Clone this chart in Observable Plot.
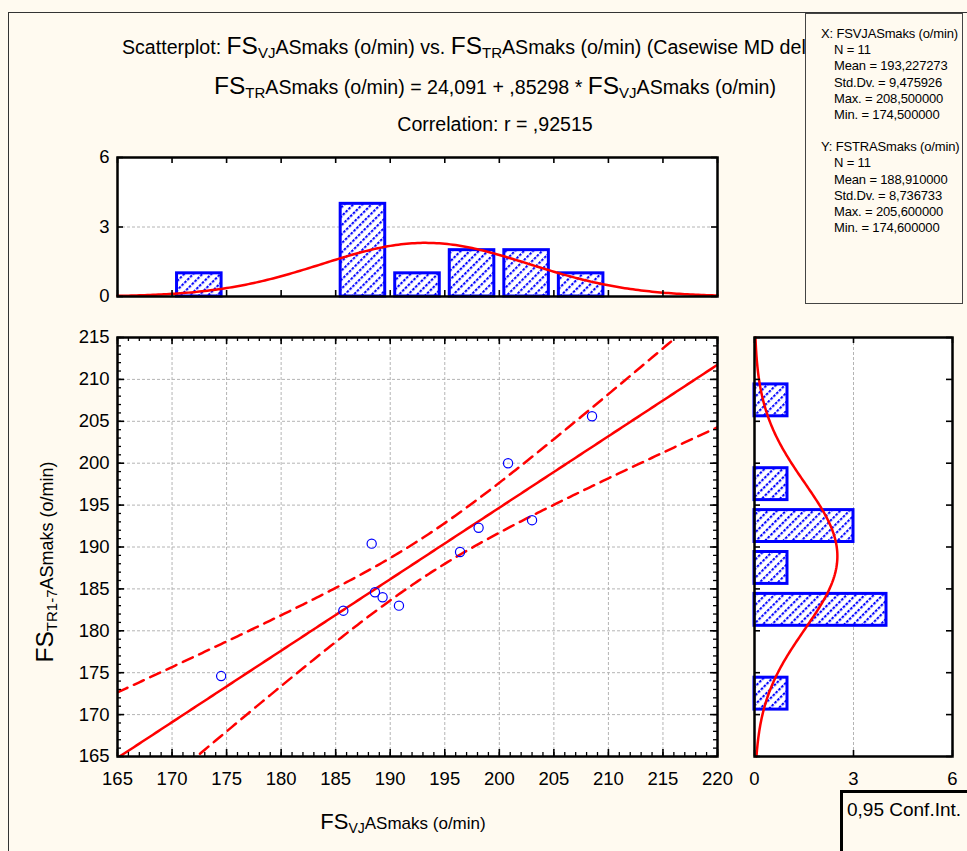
<!DOCTYPE html>
<html><head><meta charset="utf-8">
<script src="https://cdn.jsdelivr.net/npm/d3@7"></script>
<script src="https://cdn.jsdelivr.net/npm/@observablehq/plot@0.6"></script>
<style>
html,body{margin:0;padding:0;background:#fffaf0;}
#root{position:relative;width:967px;height:851px;overflow:hidden;background:#fffaf0;font-family:"Liberation Sans",Arial,sans-serif;color:#000;}
.t{position:absolute;white-space:nowrap;font-size:19.6px;line-height:26px;}
.big{font-size:24.5px;}
.sb{font-size:15px;position:relative;top:4px;}
.ax{font-size:17px;}
.ax .big{font-size:22px;}
.ax .sb{font-size:14px;}
#stats{position:absolute;left:805px;top:13px;width:158px;height:291px;border:1px solid #444;background:#fffaf0;font-size:13px;letter-spacing:-0.15px;line-height:16.2px;box-sizing:border-box;padding:12px 0 0 15px;white-space:nowrap;overflow:hidden;}
#stats .ind{padding-left:13px;}
#conf{position:absolute;left:840px;top:790px;width:140px;height:80px;border:3px solid #000;box-sizing:border-box;font-size:19px;padding:6px 0 0 4px;white-space:nowrap;}
#frame{position:absolute;left:8px;top:12px;width:1100px;height:1100px;border-left:1.5px solid #333;border-top:1.5px solid #333;}
</style></head><body><div id="root"><div id="frame"></div></div>
<script>
// ---------- data ----------
const xName = "FSVJASmaks (o/min)";
const yName = "FSTRASmaks (o/min)";
const xVals = [174.5, 185.7, 188.3, 188.6, 189.3, 190.8, 196.4, 198.1, 200.8, 203.0, 208.5];
const yVals = [174.6, 182.4, 190.4, 184.6, 184.0, 183.0, 189.4, 192.3, 200.0, 193.2, 205.6];
const xBinLo = [165, 170, 175, 180, 185, 190, 195, 200, 205, 210, 215];
const xCounts = [0, 1, 0, 0, 4, 1, 2, 2, 1, 0, 0];
const yBinLo = [165, 170, 175, 180, 185, 190, 195, 200, 205, 210];
const yCounts = [0, 1, 0, 4, 1, 3, 1, 0, 1, 0];
const binW = 5;
const statLabels = ["N", "Mean", "Std.Dv.", "Max.", "Min."];
const xStats = [11, 193.227273, 9.475926, 208.5, 174.5];
const yStats = [11, 188.91, 8.736733, 205.6, 174.6];
const regCoef = [24.091, 0.85298];   // intercept, slope
const corrR = 0.92515;
const tCrit = 2.262;                 // t(0.975, df = 9) for 0.95 conf. int.
const xTicks = [165, 170, 175, 180, 185, 190, 195, 200, 205, 210, 215, 220];
const yTicks = [165, 170, 175, 180, 185, 190, 195, 200, 205, 210, 215];
const countTicks = [0, 3, 6];

// ---------- derived ----------
const comma = s => s.replace(".", ",");
const fmt6 = v => comma(v.toFixed(6));
const noLead = (v, d) => comma(v.toFixed(d)).replace(/^0/, "");
const normal = (v, m, s) => Math.exp(-0.5 * ((v - m) / s) ** 2) / (s * Math.sqrt(2 * Math.PI));
const gridX = d3.range(165, 220.001, 0.25);
const gridY = d3.range(165, 215.001, 0.25);
const points = xVals.map((x, i) => ({x, y: yVals[i]}));
const xBins = xBinLo.map((lo, i) => ({lo, hi: lo + binW, n: xCounts[i]})).filter(d => d.n > 0);
const yBins = yBinLo.map((lo, i) => ({lo, hi: lo + binW, n: yCounts[i]})).filter(d => d.n > 0);
const topCurve = gridX.map(v => ({x: v, y: xStats[0] * binW * normal(v, xStats[1], xStats[2])}));
const rightCurve = gridY.map(v => ({y: v, x: yStats[0] * binW * normal(v, yStats[1], yStats[2])}));
const n = xStats[0], mx = xStats[1], sx = xStats[2], sy = yStats[2];
const se = sy * Math.sqrt((1 - corrR * corrR) * (n - 1) / (n - 2));
const Sxx = (n - 1) * sx * sx;
const fit = gridX.map(v => {
  const yh = regCoef[0] + regCoef[1] * v;
  const h = tCrit * se * Math.sqrt(1 / n + (v - mx) ** 2 / Sxx);
  return {x: v, y: yh, lo: yh - h, hi: yh + h};
});

const FONT = "'Liberation Sans', Arial, sans-serif";
const BLUE = "#0000ff", RED = "#ff0000", GRID = "#b4b4b4";
const root = document.getElementById("root");
function place(el, left, top) {
  el.style.position = "absolute"; el.style.left = left + "px"; el.style.top = top + "px";
  root.appendChild(el); return el;
}
function addHatch(svg, id) {
  const ns = "http://www.w3.org/2000/svg";
  const defs = document.createElementNS(ns, "defs");
  defs.innerHTML = `<pattern id="${id}" patternUnits="userSpaceOnUse" width="6.4" height="4" patternTransform="rotate(45)">
    <rect x="-1" y="-1" width="9" height="6" fill="white"/>
    <rect x="0" y="0" width="2.1" height="2.6" fill="${BLUE}"/></pattern>`;
  svg.insertBefore(defs, svg.firstChild);
}
// inward tick helpers (pixel lengths via insets)
const ticksBottom = (vals, ih, len, w = 1.6) => Plot.ruleX(vals, {insetTop: ih - len, stroke: "black", strokeWidth: w});
const ticksTop = (vals, ih, len, w = 1.6) => Plot.ruleX(vals, {insetBottom: ih - len, stroke: "black", strokeWidth: w});
const ticksLeft = (vals, iw, len, w = 1.6) => Plot.ruleY(vals, {insetRight: iw - len, stroke: "black", strokeWidth: w});
const ticksRight = (vals, iw, len, w = 1.6) => Plot.ruleY(vals, {insetLeft: iw - len, stroke: "black", strokeWidth: w});
const intFmt = d3.format("d");

// ---------- scatter ----------
{
  const W = 740, H = 490, mL = 117, mR = 23, mT = 17, mB = 54;
  const iw = W - mL - mR, ih = H - mT - mB;
  const minorX = d3.range(165, 221, 1), minorY = d3.range(165, 216, 1);
  const svg = Plot.plot({
    width: W, height: H, marginLeft: mL, marginRight: mR, marginTop: mT, marginBottom: mB,
    style: {background: "transparent", fontSize: "18.5px", fontFamily: FONT, color: "black", overflow: "visible"},
    x: {domain: [165, 220], ticks: xTicks, tickFormat: intFmt, tickSize: 0, tickPadding: 15, label: null},
    y: {domain: [165, 215], ticks: yTicks, tickFormat: intFmt, tickSize: 0, tickPadding: 8, label: null},
    marks: [
      Plot.frame({fill: "white"}),
      Plot.ruleX(xTicks, {stroke: GRID, strokeDasharray: "3,2", strokeWidth: 1}),
      Plot.ruleY(yTicks, {stroke: GRID, strokeDasharray: "3,2", strokeWidth: 1}),
      Plot.line(fit, {x: "x", y: "hi", stroke: RED, strokeWidth: 2.5, strokeDasharray: "11,7", clip: true}),
      Plot.line(fit, {x: "x", y: "lo", stroke: RED, strokeWidth: 2.5, strokeDasharray: "11,7", clip: true}),
      Plot.line(fit, {x: "x", y: "y", stroke: RED, strokeWidth: 2.5, clip: true}),
      Plot.dot(points, {x: "x", y: "y", r: 4.6, stroke: BLUE, strokeWidth: 1.2, fill: "none"}),
      ticksBottom(minorX, ih, 4, 1.3), ticksTop(minorX, ih, 4, 1.3),
      ticksLeft(minorY, iw, 4, 1.3), ticksRight(minorY, iw, 4, 1.3),
      ticksBottom(xTicks, ih, 7), ticksTop(xTicks, ih, 7),
      ticksLeft(yTicks, iw, 7), ticksRight(yTicks, iw, 7),
      Plot.frame({stroke: "black", strokeWidth: 2.5})
    ]
  });
  place(svg, 0, 320);
}

// ---------- top histogram ----------
{
  const W = 740, H = 175, mL = 117, mR = 23, mT = 17, mB = 19;
  const iw = W - mL - mR, ih = H - mT - mB;
  const svg = Plot.plot({
    width: W, height: H, marginLeft: mL, marginRight: mR, marginTop: mT, marginBottom: mB,
    style: {background: "transparent", fontSize: "18.5px", fontFamily: FONT, color: "black", overflow: "visible"},
    x: {domain: [165, 220], axis: null},
    y: {domain: [0, 6], ticks: countTicks, tickFormat: intFmt, tickSize: 0, tickPadding: 8, label: null},
    marks: [
      Plot.frame({fill: "white"}),
      Plot.ruleY([3], {stroke: GRID, strokeDasharray: "3,2", strokeWidth: 1}),
      Plot.rect(xBins, {x1: "lo", x2: "hi", y1: d => 0, y2: "n", insetLeft: 5, insetRight: 5,
        fill: "url(#hatchTop)", stroke: BLUE, strokeWidth: 3}),
      Plot.line(topCurve, {x: "x", y: "y", stroke: RED, strokeWidth: 2.5}),
      ticksBottom(xTicks, ih, 6), ticksTop(xTicks, ih, 6),
      ticksLeft(countTicks, iw, 6), ticksRight(countTicks, iw, 6),
      Plot.frame({stroke: "black", strokeWidth: 2.5})
    ]
  });
  addHatch(svg, "hatchTop");
  place(svg, 0, 140);
}

// ---------- right histogram ----------
{
  const W = 227, H = 490, mL = 14, mR = 15, mT = 17, mB = 54;
  const iw = W - mL - mR, ih = H - mT - mB;
  const svg = Plot.plot({
    width: W, height: H, marginLeft: mL, marginRight: mR, marginTop: mT, marginBottom: mB,
    style: {background: "transparent", fontSize: "18.5px", fontFamily: FONT, color: "black", overflow: "visible"},
    x: {domain: [0, 6], ticks: countTicks, tickFormat: intFmt, tickSize: 0, tickPadding: 15, label: null},
    y: {domain: [165, 215], axis: null},
    marks: [
      Plot.frame({fill: "white"}),
      Plot.ruleX([3], {stroke: GRID, strokeDasharray: "3,2", strokeWidth: 1}),
      Plot.rect(yBins, {y1: "lo", y2: "hi", x1: d => 0, x2: "n", insetTop: 5, insetBottom: 5,
        fill: "url(#hatchRight)", stroke: BLUE, strokeWidth: 3}),
      Plot.line(rightCurve, {x: "x", y: "y", stroke: RED, strokeWidth: 2.5}),
      ticksBottom(countTicks, ih, 6), ticksTop(countTicks, ih, 6),
      ticksLeft(yTicks, iw, 6), ticksRight(yTicks, iw, 6),
      Plot.frame({stroke: "black", strokeWidth: 2.5})
    ]
  });
  addHatch(svg, "hatchRight");
  place(svg, 740, 320);
}

// ---------- texts ----------
const fs = sub => `<span class="big">FS</span><span class="sb">${sub}</span>`;
const t1 = document.createElement("div"); t1.className = "t";
t1.style.width = "683px"; t1.style.overflow = "hidden";
t1.innerHTML = `Scatterplot: ${fs("VJ")}ASmaks (o/min) vs. ${fs("TR")}ASmaks (o/min) (Casewise MD deletion)`;
place(t1, 122, 33);
const t2 = document.createElement("div"); t2.className = "t";
t2.style.width = "990px"; t2.style.textAlign = "center";
t2.innerHTML = `${fs("TR")}ASmaks (o/min) = ${comma(regCoef[0].toFixed(3))} + ${noLead(regCoef[1], 5)} * ${fs("VJ")}ASmaks (o/min)`;
place(t2, 0, 73);
const t3 = document.createElement("div"); t3.className = "t";
t3.style.width = "990px"; t3.style.textAlign = "center";
t3.innerHTML = `Correlation: r = ${noLead(corrR, 5)}`;
place(t3, 0, 111);

const xt = document.createElement("div"); xt.className = "t ax";
xt.style.width = "600px"; xt.style.textAlign = "center";
xt.innerHTML = `${fs("VJ")}ASmaks (o/min)`;
place(xt, 103, 809);
const yt = document.createElement("div"); yt.className = "t";
yt.style.width = "400px"; yt.style.textAlign = "center";
yt.style.transform = "rotate(-90deg)"; yt.style.transformOrigin = "200px 13px";
yt.innerHTML = `${fs("TR1-7")}ASmaks (o/min)`;
yt.style.fontSize = "18px";
place(yt, 45 - 200, 562 - 13);

// stats box
const st = document.createElement("div"); st.id = "stats";
const block = (prefix, name, vals) =>
  `<div>${prefix}: ${name}</div>` +
  statLabels.map((l, i) => `<div class="ind">${l} = ${i === 0 ? vals[i] : fmt6(vals[i])}</div>`).join("");
st.innerHTML = block("X", xName, xStats) + `<div style="height:16px"></div>` + block("Y", yName, yStats);
root.appendChild(st);
const cf = document.createElement("div"); cf.id = "conf"; cf.textContent = "0,95 Conf.Int.";
root.appendChild(cf);
</script></body></html>
